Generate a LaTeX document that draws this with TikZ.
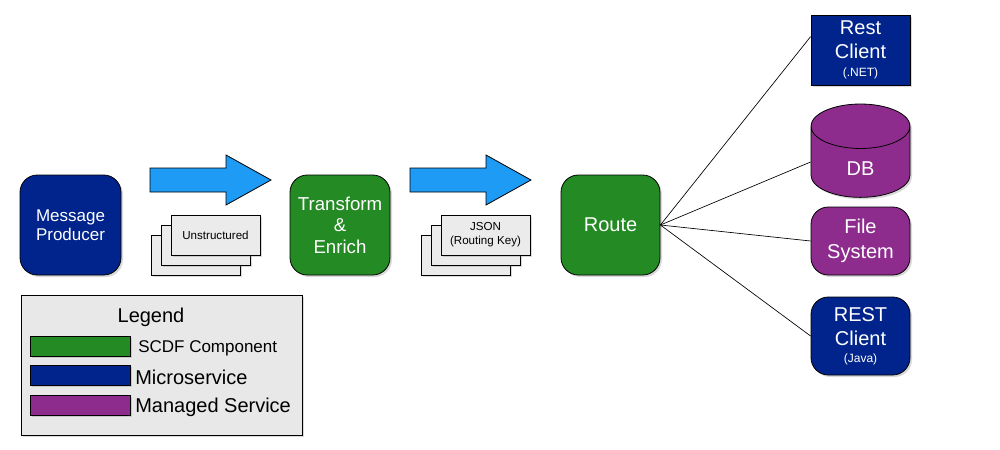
\documentclass[tikz,border=0pt]{standalone}
\usepackage{fontspec}
\setmainfont{Liberation Sans}
\usetikzlibrary{shapes.geometric,shadows}
\definecolor{msblue}{RGB}{0,36,140}
\definecolor{scdfgreen}{RGB}{36,138,36}
\definecolor{mspurple}{RGB}{142,44,142}
\definecolor{arrowblue}{RGB}{30,156,245}
\definecolor{docgray}{RGB}{235,235,235}
\definecolor{legendgray}{RGB}{232,232,232}
\begin{document}
\begin{tikzpicture}[x=0.75pt,y=-0.75pt,
    shade/.style={drop shadow={shadow xshift=1.5pt,shadow yshift=-1.5pt,opacity=0.3}},
    box/.style={draw,line width=0.6pt,text=white,align=center,inner sep=0pt,shade},
    roundbox/.style={box,rounded corners=13pt},
    docbox/.style={draw,line width=0.5pt,fill=docgray,minimum width=66.75pt,minimum height=30pt,inner sep=0pt,align=center,font=\fontsize{8.7}{10.5}\selectfont,shade},
    blockarrow/.style={draw,line width=0.6pt,fill=arrowblue},
    swatch/.style={draw,line width=0.6pt,minimum width=75pt,minimum height=15pt,inner sep=0pt,shade},
    link/.style={line width=0.5pt}]
    \useasboundingbox (0,0) rectangle (1000,450);
    \node[roundbox,fill=msblue,minimum width=75.75pt,minimum height=75pt,font=\fontsize{12.75}{14.25}\selectfont] (producer) at (70.5,225) {Message\\Producer};
    \draw[blockarrow] (150,168)--(226,168)--(226,155)--(271,180)--(226,205)--(226,192)--(150,192)--cycle;
    \node[docbox] (unstr3) at (195.5,255) {};
    \node[docbox] (unstr2) at (205.5,245) {};
    \node[docbox] (unstr1) at (215.5,235) {Unstructured};
    \node[roundbox,fill=scdfgreen,minimum width=75pt,minimum height=75pt,font=\fontsize{14}{16}\selectfont] (transform) at (340,225) {Transform\\\&\\Enrich};
    \draw[blockarrow] (410,168)--(486,168)--(486,155)--(531,180)--(486,205)--(486,192)--(410,192)--cycle;
    \node[docbox] (json3) at (465.5,255) {};
    \node[docbox] (json2) at (475.5,245) {};
    \node[docbox] (json1) at (485.5,235) {JSON\\(Routing Key)};
    \node[roundbox,fill=scdfgreen,minimum width=74.25pt,minimum height=75pt,font=\fontsize{15}{18}\selectfont] (route) at (610.5,225) {Route};
    \node[box,fill=msblue,minimum width=74.25pt,minimum height=52.5pt,font=\fontsize{15}{18}\selectfont] (restnet) at (860.5,50) {Rest\\Client\\[-5pt]{\fontsize{9}{10}\selectfont(.NET)}};
    \node[box,cylinder,shape border rotate=90,shape aspect=1.6,fill=mspurple,minimum width=74.25pt,minimum height=66.75pt,text height=19.7pt,text depth=0pt,font=\fontsize{15}{18}\selectfont] (db) at (860.5,162) {DB};
    \node[roundbox,fill=mspurple,minimum width=74.25pt,minimum height=51pt,font=\fontsize{15}{18.75}\selectfont] (filesys) at (860.5,241) {File\\System};
    \node[roundbox,fill=msblue,minimum width=74.25pt,minimum height=58.5pt,font=\fontsize{15}{18}\selectfont] (restjava) at (860.5,336) {REST\\Client\\[-5pt]{\fontsize{9}{10}\selectfont(Java)}};
    \draw[link] (route.east)--(restnet.165);
    \draw[link] (route.east)--(db.west);
    \draw[link] (route.east)--(filesys.west);
    \draw[link] (route.east)--(restjava.west);
    \node[draw,line width=0.6pt,fill=legendgray,minimum width=210.75pt,minimum height=105pt,shade] (legend) at (161.5,365) {};
    \node[anchor=base,font=\fontsize{15}{18}\selectfont] (legendtitle) at (151,322) {Legend};
    \node[swatch,fill=scdfgreen] (keygreen) at (80,346) {};
    \node[swatch,fill=msblue] (keyblue) at (80,375) {};
    \node[swatch,fill=mspurple] (keypurple) at (80,405) {};
    \node[anchor=base west,inner sep=0pt,font=\fontsize{12.75}{15}\selectfont] (keygreentext) at (138,352) {SCDF Component};
    \node[anchor=base west,inner sep=0pt,font=\fontsize{15}{18}\selectfont] (keybluetext) at (135,384) {Microservice};
    \node[anchor=base west,inner sep=0pt,font=\fontsize{15}{18}\selectfont] (keypurpletext) at (135,412) {Managed Service};
\end{tikzpicture}
\end{document}
